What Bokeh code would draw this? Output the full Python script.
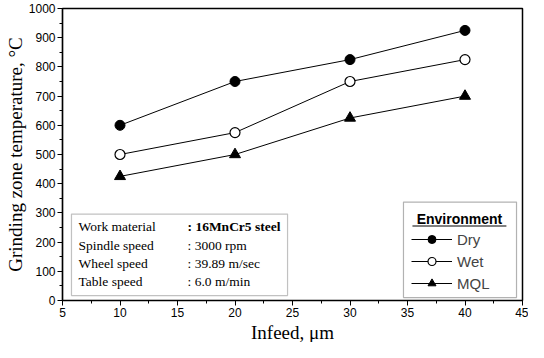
from bokeh.plotting import figure
from bokeh.models import (Legend, LegendItem, Label, BoxAnnotation, Range1d,
                          FixedTicker, Title)
from bokeh.embed import file_html
from bokeh.resources import INLINE

infeed = [10, 20, 30, 40]
dry = [600, 750, 825, 925]
wet = [500, 575, 750, 825]
mql = [425, 500, 625, 700]

x_ticks = [5, 10, 15, 20, 25, 30, 35, 40, 45]
y_ticks = [0, 100, 200, 300, 400, 500, 600, 700, 800, 900, 1000]

info_keys = ["Work material", "Spindle speed", "Wheel speed", "Table speed"]
info_vals = [": 16MnCr5 steel", ": 3000 rpm", ": 39.89 m/sec", ": 6.0 m/min"]

p = figure(width=528, height=342, output_backend="svg", toolbar_location=None,
           x_range=Range1d(5, 45), y_range=Range1d(0, 1000),
           min_border_left=62, min_border_right=6, min_border_top=8,
           min_border_bottom=0)
p.xgrid.visible = False
p.ygrid.visible = False
p.outline_line_color = "black"
p.outline_line_width = 1.5
p.outline_line_alpha = 1

for ax in (p.xaxis, p.yaxis):
    ax.axis_line_color = "black"
    ax.axis_line_width = 1.2
    ax.major_tick_in = 0
    ax.major_tick_out = 5
    ax.minor_tick_in = 0
    ax.minor_tick_out = 3
    ax.major_tick_line_color = "black"
    ax.minor_tick_line_color = "black"
    ax.major_label_text_font = "Liberation Sans"
    ax.major_label_text_font_size = "12px"
    ax.major_label_text_color = "black"
    ax.axis_label_text_font = "Liberation Serif"
    ax.axis_label_text_font_size = "19px"
    ax.axis_label_text_font_style = "normal"
    ax.axis_label_text_color = "black"

p.xaxis.ticker = FixedTicker(ticks=x_ticks,
                             minor_ticks=[t + 2.5 for t in x_ticks[:-1]])
p.yaxis.ticker = FixedTicker(ticks=y_ticks,
                             minor_ticks=[t + 50 for t in y_ticks[:-1]])
p.yaxis.axis_label = "Grinding zone temperature, °C"
p.xaxis.major_label_standoff = 2
p.yaxis.major_label_standoff = 2
p.yaxis.axis_label_standoff = 0

# x-axis title, shifted left like in the reference
p.add_layout(Title(text="Infeed, μm", align="center", offset=-20, standoff=0,
                   text_font="Liberation Serif", text_font_size="19px",
                   text_font_style="normal", text_color="black"), "below")

l1 = p.line(infeed, dry, line_color="black", line_width=1)
m1 = p.scatter(infeed, dry, marker="circle", size=10, fill_color="black", line_color="black")
l2 = p.line(infeed, wet, line_color="black", line_width=1)
m2 = p.scatter(infeed, wet, marker="circle", size=10, fill_color="white", line_color="black", line_width=1.2)
l3 = p.line(infeed, mql, line_color="black", line_width=1)
m3 = p.scatter(infeed, mql, marker="triangle", size=11, fill_color="black", line_color="black")

# info box
p.add_layout(BoxAnnotation(left=5.78, right=24.57, top=296, bottom=17,
                           fill_alpha=0, line_color="#333333", line_width=1.2))
rows_y = [252, 187, 126, 65]
for k, v, yy in zip(info_keys, info_vals, rows_y):
    p.add_layout(Label(x=6.39, y=yy, text=k, text_font="Liberation Serif",
                       text_font_size="13.5px", text_baseline="middle", text_color="black"))
    p.add_layout(Label(x=15.87, y=yy, text=v, text_font="Liberation Serif",
                       text_font_size="13.5px", text_baseline="middle", text_color="black",
                       text_font_style="bold" if k == "Work material" else "normal"))

# legend frame and title
p.add_layout(BoxAnnotation(left=34.65, right=44.48, top=337, bottom=10,
                           fill_color="white", fill_alpha=1, line_color="black",
                           line_width=1.2))
p.add_layout(Label(x=39.52, y=279, text="Environment", text_font="Liberation Sans",
                   text_font_style="bold", text_font_size="14px", text_align="center",
                   text_baseline="middle", text_color="black", level="overlay"))
p.add_layout(BoxAnnotation(left=35.43, right=43.6, top=256.5, bottom=253.3,
                           fill_color="black", fill_alpha=1, line_alpha=0,
                           level="overlay"))

legend = Legend(items=[LegendItem(label="Dry", renderers=[l1, m1]),
                       LegendItem(label="Wet", renderers=[l2, m2]),
                       LegendItem(label="MQL", renderers=[l3, m3])],
                location=(349, 7),
                label_text_font="Liberation Sans", label_text_font_size="15px",
                label_standoff=5,
                glyph_width=41, glyph_height=20, label_height=20, spacing=2,
                padding=0, margin=0, border_line_alpha=0,
                background_fill_alpha=0)
p.add_layout(legend)

open("out.html", "w").write(file_html(p, INLINE))
